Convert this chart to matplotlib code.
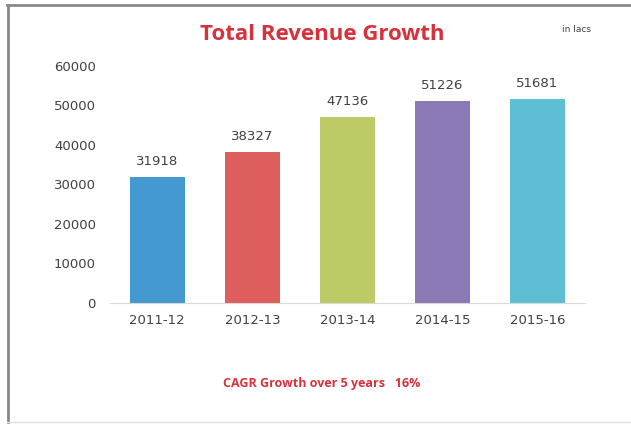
import matplotlib.pyplot as plt
from matplotlib.lines import Line2D

years = ['2011-12', '2012-13', '2013-14', '2014-15', '2015-16']
revenue = [31918, 38327, 47136, 51226, 51681]
colors = ['#4499D0', '#DD5E5C', '#BDCA65', '#8B7AB5', '#5EBFD4']
yticks = [0, 10000, 20000, 30000, 40000, 50000, 60000]

fig = plt.figure(figsize=(6.31, 4.25), dpi=100)
ax = fig.add_axes([0.174, 0.287, 0.753, 0.558])

x = list(range(len(years)))
ax.bar(x, revenue, width=0.58, color=colors)
for xi, v in zip(x, revenue):
    ax.text(xi, v + 2200, str(v), ha='center', va='bottom', fontsize=9.5, color='#404040')

ax.set_xlim(-0.5, 4.5)
ax.set_ylim(0, 60000)
ax.set_yticks(yticks)
ax.set_yticklabels([str(t) for t in yticks])
ax.set_xticks(x)
ax.set_xticklabels(years)
ax.tick_params(axis='both', length=0, labelsize=9.5, labelcolor='#404040')
ax.tick_params(axis='y', pad=10)
ax.tick_params(axis='x', pad=8)
for s in ['top', 'right', 'left']:
    ax.spines[s].set_visible(False)
ax.spines['bottom'].set_color('#D9D9D9')

fig.text(0.511, 0.92, 'Total Revenue Growth', ha='center', va='center',
         fontsize=16, fontweight='bold', color='#D7313B', family='Open Sans')
fig.text(0.89, 0.93, 'in lacs', ha='left', va='center', fontsize=6.5, color='#404040')
fig.text(0.51, 0.098, 'CAGR Growth over 5 years   16%', ha='center', va='center',
         fontsize=9, fontweight='bold', color='#D7313B', family='Open Sans')

# frame lines
fig.add_artist(Line2D([7/631, 1], [1 - 4.5/425, 1 - 4.5/425], color='#888888', lw=2))
fig.add_artist(Line2D([7.5/631, 7.5/631], [1 - 4.5/425, 1 - 422/425], color='#888888', lw=2))
fig.add_artist(Line2D([7/631, 1], [1 - 422/425, 1 - 422/425], color='#E0E0E0', lw=1))

fig.savefig('out.png', dpi=100)
